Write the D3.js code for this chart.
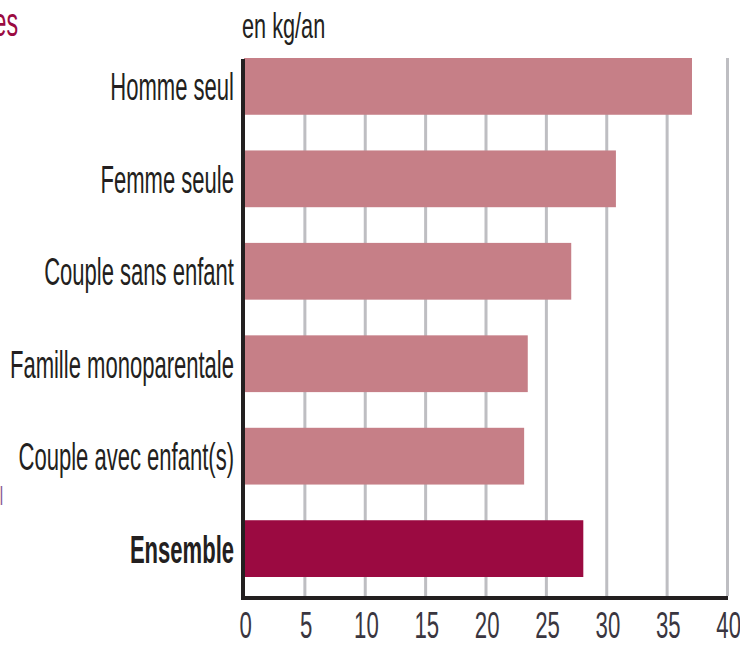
<!DOCTYPE html>
<html>
<head>
<meta charset="utf-8">
<script src="https://cdn.jsdelivr.net/npm/d3@7/dist/d3.min.js"></script>
<style>
  html, body { margin: 0; padding: 0; background: #ffffff; }
  svg { display: block; }
  text { font-family: "Liberation Sans", Arial, sans-serif; }
</style>
</head>
<body>
<svg id="chart" width="740" height="647"></svg>
<script>
// Household types and annual quantity per person (kg/an)
const categories = [
  "Homme seul",
  "Femme seule",
  "Couple sans enfant",
  "Famille monoparentale",
  "Couple avec enfant(s)",
  "Ensemble"
];
const values = [37.1, 30.8, 27.1, 23.5, 23.2, 28.1];
const tickValues = [0, 5, 10, 15, 20, 25, 30, 35, 40];
const unitLabel = "en kg/an";
const totalCategory = "Ensemble";

const colors = {
  bar: "#c67f87",
  total: "#9b0a41",
  grid: "#bebec2",
  axis: "#231f20",
  text: "#231f20",
  title: "#9b0a41"
};

const svg = d3.select("#chart");
const squeeze = 0.58; // condensed lettering

const x = d3.scaleLinear().domain([0, 40]).range([244, 727]);
const y = d3.scaleBand()
  .domain(categories)
  .range([58, 577])
  .paddingInner(0.386)
  .paddingOuter(0);

const plotTop = 58, plotBottom = 598;

// Fragments of neighbouring text at the left edge
svg.append("g")
  .attr("transform", "translate(18,36) scale(" + squeeze + ",1)")
  .append("text")
  .attr("text-anchor", "end")
  .attr("font-size", 40)
  .attr("fill", colors.title)
  .text("es");
svg.append("g")
  .attr("transform", "translate(3,505) scale(" + squeeze + ",1)")
  .append("text")
  .attr("text-anchor", "end")
  .attr("font-size", 26)
  .attr("fill", "#8a5a90")
  .text("l");

// Vertical gridlines
const grid = svg.append("g")
  .attr("transform", "translate(0," + (plotBottom - 2) + ")")
  .call(d3.axisBottom(x)
    .tickValues(tickValues.filter(d => d > 0))
    .tickSize(-(plotBottom - 2 - plotTop))
    .tickFormat(""));
grid.select(".domain").remove();
grid.selectAll(".tick line")
  .attr("stroke", colors.grid)
  .attr("stroke-width", 3);

// Bars
svg.append("g")
  .selectAll("rect")
  .data(categories)
  .join("rect")
  .attr("x", x(0))
  .attr("y", d => y(d))
  .attr("width", (d, i) => x(values[i]) - x(0))
  .attr("height", y.bandwidth())
  .attr("fill", d => d === totalCategory ? colors.total : colors.bar);

// Category labels
const yAxis = svg.append("g")
  .attr("transform", "translate(" + (x(0) - 10) + ",0)")
  .call(d3.axisLeft(y).tickSize(0).tickPadding(0));
yAxis.select(".domain").remove();
yAxis.selectAll(".tick text")
  .attr("x", 0)
  .attr("dy", 14)
  .attr("font-size", 38)
  .attr("font-family", "'Liberation Sans', Arial, sans-serif")
  .attr("font-weight", d => d === totalCategory ? "bold" : "normal")
  .attr("fill", colors.text)
  .attr("transform", "scale(" + squeeze + ",1)");

// Value axis tick labels
const xAxis = svg.append("g")
  .attr("transform", "translate(0," + plotBottom + ")")
  .call(d3.axisBottom(x).tickValues(tickValues).tickSize(0).tickFormat(d3.format("d")));
xAxis.select(".domain").remove();
xAxis.selectAll(".tick text")
  .attr("x", 2)
  .attr("y", 40)
  .attr("dy", 0)
  .attr("font-size", 37)
  .attr("font-family", "'Liberation Sans', Arial, sans-serif")
  .attr("fill", "#3a3640")
  .attr("transform", "scale(0.6,1)");

// Axis lines
svg.append("line")
  .attr("x1", x(0) - 1).attr("x2", x(0) - 1)
  .attr("y1", plotTop + 1).attr("y2", plotBottom + 2)
  .attr("stroke", colors.axis).attr("stroke-width", 4);
svg.append("line")
  .attr("x1", x(0) - 3).attr("x2", x(40) + 1)
  .attr("y1", plotBottom).attr("y2", plotBottom)
  .attr("stroke", colors.axis).attr("stroke-width", 4);

// Unit label
svg.append("g")
  .attr("transform", "translate(242,38) scale(0.62,1)")
  .append("text")
  .attr("font-size", 35)
  .attr("fill", colors.text)
  .text(unitLabel);
</script>
</body>
</html>
